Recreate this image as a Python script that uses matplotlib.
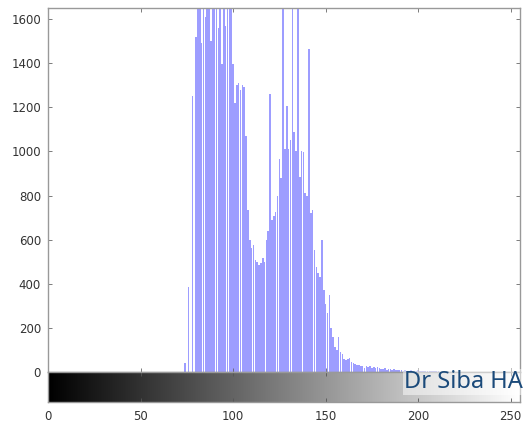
import numpy as np
import matplotlib
matplotlib.use("Agg")
import matplotlib.pyplot as plt

# ---- data: histogram counts per gray level (0..255) ----
levels = np.arange(256)
counts = np.zeros(256)
start_level = 74
band_counts = [
    40, 0, 386, 0, 1250, 0, 1518, 2000, 1900, 1490,            # 74-83
    2100, 1610, 2300, 1900, 1500, 2000, 1750, 2200, 1560, 1900,  # 84-93
    1395, 1700, 1570, 2000, 1800, 1900, 1395, 1220, 1300, 1310,  # 94-103
    1280, 1300, 1290, 1070, 736, 600, 563, 577, 509, 500,        # 104-113
    486, 495, 518, 500, 600, 640, 1260, 690, 705, 727,           # 114-123
    797, 964, 880, 1700, 1010, 1205, 1010, 1050, 1700, 1086,     # 124-133
    1000, 1700, 886, 1000, 995, 813, 800, 1463, 722, 736,        # 134-143
    555, 477, 450, 432, 600, 373, 310, 268, 350, 200,            # 144-153
    160, 114, 100, 160, 91, 80, 57, 55, 60, 63,                  # 154-163
    45, 40, 35, 32, 30, 28, 25, 20, 28, 22,                      # 164-173
    26, 18, 24, 20, 22, 18, 15, 12, 16, 10,                      # 174-183
    14, 12, 9, 13, 10, 11, 8, 7, 5, 8,                           # 184-193
    6, 4, 7, 5, 6, 3, 8, 5, 4, 6,                                # 194-203
    3, 5, 4, 6, 3, 4, 5, 3, 2, 0,                                # 204-213
    2, 1,                                                        # 214-215
]
counts[start_level:start_level + len(band_counts)] = band_counts

x_ticks = [0, 50, 100, 150, 200, 250]
y_ticks = [0, 200, 400, 600, 800, 1000, 1200, 1400, 1600]
y_max = 1650
watermark = "Dr Siba HA"

# ---- figure ----
W, H = 523, 425
fig = plt.figure(figsize=(W / 100, H / 100), dpi=100)
fig.patch.set_facecolor("white")

ax = fig.add_axes([48 / W, 1 - 372 / H, (520 - 48) / W, (372 - 8) / H])
cax = fig.add_axes([48 / W, 1 - 402 / H, (520 - 48) / W, 30 / H])

ax.bar(levels, counts, width=0.85, color="#8c8cff", alpha=0.85,
       linewidth=0, align="center")
ax.set_xlim(0, 255)
ax.set_ylim(0, y_max)
ax.set_yticks(y_ticks)
ax.set_xticks(x_ticks)
ax.tick_params(axis="x", labelbottom=False, direction="in", top=True,
               length=3, width=0.6, color="#666666")
ax.tick_params(axis="y", direction="in", right=True, length=3, width=0.6,
               color="#666666", labelsize=8.5, labelcolor="#333333", pad=5)
for s in ax.spines.values():
    s.set_color("#999999")
    s.set_linewidth(1.0)

grad = np.linspace(0, 255, 256)[None, :]
cax.imshow(grad, cmap="gray", vmin=0, vmax=255, aspect="auto",
           extent=[0, 255, 0, 1], interpolation="bilinear")
cax.set_xlim(0, 255)
cax.set_ylim(0, 1)
cax.set_yticks([])
cax.set_xticks(x_ticks)
cax.tick_params(axis="x", direction="in", top=True, length=3, width=0.6,
                color="#555555", labelsize=8.5, labelcolor="#333333", pad=6)
for s in cax.spines.values():
    s.set_color("#999999")
    s.set_linewidth(1.0)

fig.text(404 / W, 1 - 382 / H, watermark, fontsize=17, family="Noto Sans",
         color="#1b4a7a", va="center", ha="left",
         bbox=dict(facecolor="white", alpha=0.5, edgecolor="none", pad=1.0))

fig.savefig("out.png", dpi=100)
